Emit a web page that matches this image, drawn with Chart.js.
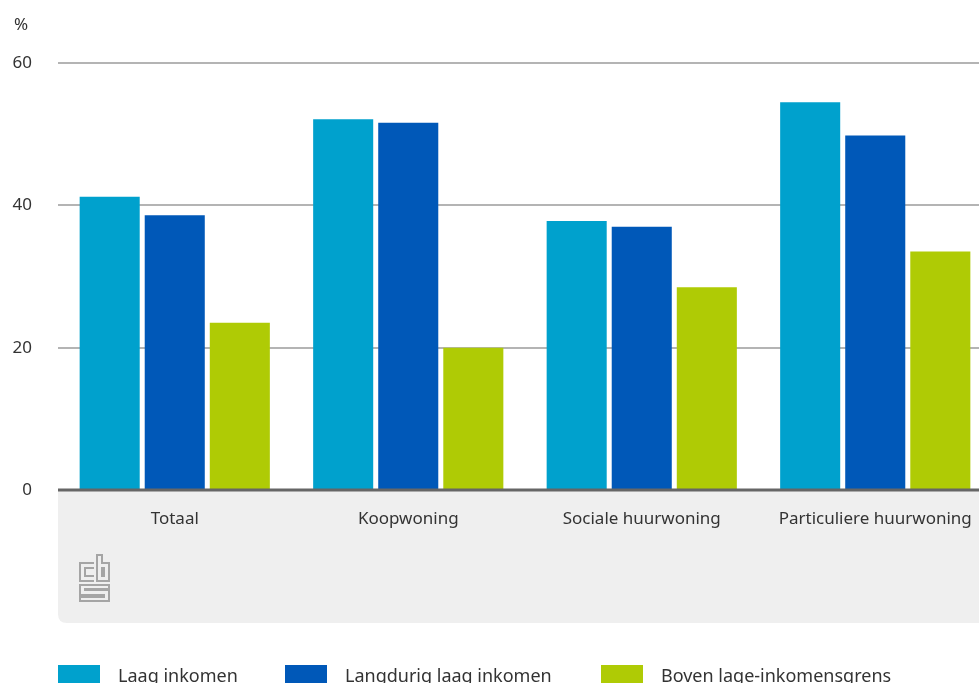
<!DOCTYPE html>
<html>
<head>
<meta charset="utf-8">
<script src="https://cdn.jsdelivr.net/npm/chart.js@4/dist/chart.umd.min.js"></script>
<style>
  html, body { margin: 0; padding: 0; background: #fff; overflow: hidden; }
  #wrap { width: 992px; height: 683px; }
</style>
</head>
<body>
<div id="wrap"><canvas id="chart" width="992" height="683"></canvas></div>
<script>
const categories = ["Totaal", "Koopwoning", "Sociale huurwoning", "Particuliere huurwoning"];
const laagInkomen = [41.2, 52.1, 37.8, 54.5];
const langdurigLaag = [38.6, 51.6, 37.0, 49.8];
const bovenGrens = [23.5, 20.0, 28.5, 33.5];
const yTicks = [0, 20, 40, 60];

const FONT = "'Noto Sans', sans-serif";
const colors = ['#00a1cd', '#0058b8', '#afcb05'];

// grey block under the x axis, axis line, cbs logo, "%" and legend
const decor = {
    id: 'decor',
    beforeDraw(chart) {
        const { ctx, chartArea } = chart;
        const top = chartArea.bottom, left = chartArea.left;
        const bottom = 623, right = chart.width + 10, r = 9;
        ctx.save();
        ctx.fillStyle = '#efefef';
        ctx.beginPath();
        ctx.moveTo(left, top);
        ctx.lineTo(right, top);
        ctx.lineTo(right, bottom);
        ctx.lineTo(left + r, bottom);
        ctx.quadraticCurveTo(left, bottom, left, bottom - r);
        ctx.closePath();
        ctx.fill();

        // cbs logo
        ctx.strokeStyle = '#a5a5a5';
        ctx.lineWidth = 2;
        ctx.beginPath();
        // c
        ctx.moveTo(94, 563); ctx.lineTo(80, 563); ctx.lineTo(80, 581); ctx.lineTo(94, 581);
        ctx.moveTo(94, 568); ctx.lineTo(85, 568); ctx.lineTo(85, 576); ctx.lineTo(94, 576);
        // b
        ctx.moveTo(97, 555); ctx.lineTo(97, 581); ctx.lineTo(109, 581); ctx.lineTo(109, 563); ctx.lineTo(102, 563); ctx.lineTo(102, 555); ctx.closePath();
        ctx.moveTo(102, 568); ctx.lineTo(104, 568); ctx.lineTo(104, 576); ctx.lineTo(102, 576); ctx.closePath();
        // s
        ctx.moveTo(109, 585); ctx.lineTo(80, 585); ctx.lineTo(80, 595); ctx.lineTo(104, 595); ctx.lineTo(104, 597); ctx.lineTo(80, 597); ctx.lineTo(80, 601); ctx.lineTo(109, 601); ctx.lineTo(109, 590); ctx.lineTo(85, 590); ctx.lineTo(85, 589); ctx.lineTo(109, 589); ctx.closePath();
        ctx.stroke();
        ctx.restore();
    },
    afterDatasetsDraw(chart) {
        const { ctx, chartArea } = chart;
        ctx.save();
        ctx.strokeStyle = '#666666';
        ctx.lineWidth = 3;
        ctx.beginPath();
        ctx.moveTo(chartArea.left, chartArea.bottom);
        ctx.lineTo(chart.width, chartArea.bottom);
        ctx.stroke();
        ctx.restore();
    },
    afterDraw(chart) {
        const { ctx } = chart;
        ctx.save();
        ctx.fillStyle = '#333333';
        ctx.font = '17px ' + FONT;
        ctx.textAlign = 'center';
        ctx.textBaseline = 'middle';
        ctx.fillText('%', 21, 25);

        const xs = [58, 285, 601];
        ctx.font = '18px ' + FONT;
        ctx.textAlign = 'left';
        ctx.textBaseline = 'alphabetic';
        chart.data.datasets.forEach((ds, i) => {
            ctx.fillStyle = ds.backgroundColor;
            ctx.fillRect(xs[i], 665, 42, 22);
            ctx.fillStyle = '#333333';
            ctx.fillText(ds.label, xs[i] + 60, 682);
        });
        ctx.restore();
    }
};

new Chart(document.getElementById('chart'), {
    type: 'bar',
    data: {
        labels: categories,
        datasets: [
            { label: 'Laag inkomen', data: laagInkomen, backgroundColor: colors[0] },
            { label: 'Langdurig laag inkomen', data: langdurigLaag, backgroundColor: colors[1] },
            { label: 'Boven lage-inkomensgrens', data: bovenGrens, backgroundColor: colors[2] }
        ]
    },
    plugins: [decor],
    options: {
        responsive: false,
        animation: false,
        layout: { padding: { top: 63, right: 0, left: 0, bottom: 0 } },
        datasets: { bar: { categoryPercentage: 0.836, barPercentage: 0.923 } },
        plugins: {
            legend: { display: false },
            tooltip: { enabled: false }
        },
        scales: {
            x: {
                grid: { display: false },
                border: { display: false },
                ticks: { color: '#333333', font: { family: FONT, size: 17 }, padding: 11, maxRotation: 0 },
                afterFit(scale) { scale.height = 193; }
            },
            y: {
                min: 0,
                max: 60,
                afterBuildTicks(scale) { scale.ticks = yTicks.map(v => ({ value: v })); },
                grid: { color: '#b4b4b4', lineWidth: 2, drawTicks: false },
                border: { display: false },
                ticks: { color: '#333333', font: { family: FONT, size: 17 }, padding: 26 },
                afterFit(scale) { scale.width = 58; }
            }
        }
    }
});
</script>
</body>
</html>
